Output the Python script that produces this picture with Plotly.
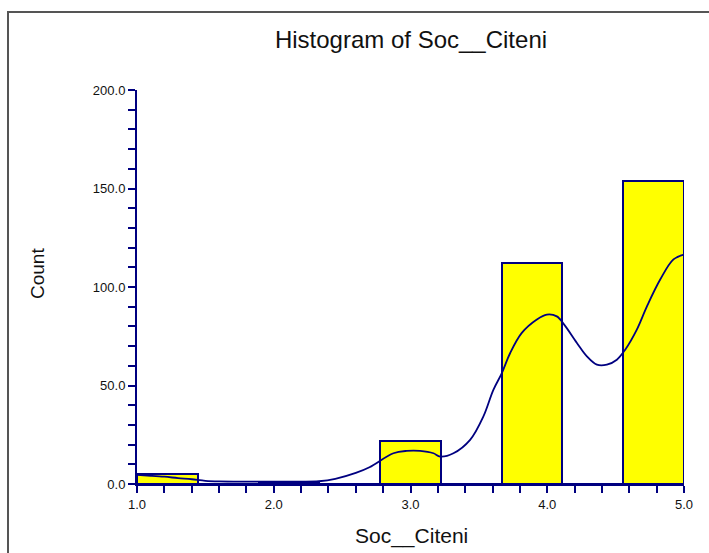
import plotly.graph_objects as go

# Histogram bins (9 equal bins over 1..5) and their counts
bin_left = [1.0, 1.4444, 1.8889, 2.3333, 2.7778, 3.2222, 3.6667, 4.1111, 4.5556]
bin_right = [1.4444, 1.8889, 2.3333, 2.7778, 3.2222, 3.6667, 4.1111, 4.5556, 5.0]
counts = [5, 0, 1, 0, 22, 0, 112, 0, 154]

# Density curve scaled to counts
curve_x = [1.0, 1.1, 1.2, 1.3, 1.4, 1.5, 1.6, 1.8, 2.0, 2.2, 2.33, 2.45, 2.6, 2.7,
           2.875, 2.973, 3.07, 3.168, 3.217, 3.314, 3.436, 3.533, 3.606, 3.668,
           3.729, 3.814, 3.924, 3.997, 4.07, 4.124, 4.217, 4.29, 4.363, 4.436,
           4.509, 4.57, 4.655, 4.729, 4.826, 4.923, 5.0]
curve_y = [4.6, 4.2, 3.7, 3.0, 2.4, 1.6, 1.3, 1.2, 1.2, 1.2, 1.4, 2.6, 5.6, 8.5,
           15.6, 16.8, 16.8, 15.6, 13.9, 15.6, 22.4, 34.3, 47.8, 56.3,
           66.5, 76.7, 83.5, 86.0, 85.1, 80.9, 71.6, 64.8, 60.6, 60.6,
           63.1, 68.2, 78.4, 90.2, 103.8, 114.0, 116.5]

y_ticks = [0, 50, 100, 150, 200]
y_ticklabels = ["0.0", "50.0", "100.0", "150.0", "200.0"]
x_ticks = [1, 2, 3, 4, 5]
x_ticklabels = ["1.0", "2.0", "3.0", "4.0", "5.0"]

NAVY = "#000080"
FONT = "Liberation Sans, Arial, sans-serif"

centers = [(a + b) / 2 for a, b in zip(bin_left, bin_right)]
widths = [b - a for a, b in zip(bin_left, bin_right)]

fig = go.Figure()
fig.add_trace(go.Bar(
    x=centers, y=counts, width=widths,
    marker=dict(color="#ffff00", line=dict(color=NAVY, width=2)),
    hoverinfo="skip",
))
fig.add_trace(go.Scatter(
    x=curve_x, y=curve_y, mode="lines",
    line=dict(color=NAVY, width=1.8, shape="spline", smoothing=1.0),
    hoverinfo="skip",
))

W, H = 709, 553
L, R, T, B = 137, 25, 90, 69
pw, ph = W - L - R, H - T - B

def px_to_paper_x(px):
    return (px - L) / pw

def py_to_paper_y(py):
    return (H - B - py) / ph

axis_common = dict(
    showline=True, linecolor=NAVY, linewidth=2,
    ticks="outside", ticklen=7, tickwidth=2, tickcolor=NAVY,
    showgrid=False, zeroline=False,
    tickfont=dict(family=FONT, size=13, color="#111111"),
)

fig.update_layout(
    width=W, height=H,
    margin=dict(l=L, r=R, t=T, b=B, pad=0),
    paper_bgcolor="white", plot_bgcolor="white",
    showlegend=False, bargap=0,
    title=dict(
        text="Histogram of Soc__Citeni",
        font=dict(family=FONT, size=24, color="#111111"),
        x=px_to_paper_x(411), xref="paper", xanchor="center",
        y=1 - 40 / H, yref="container", yanchor="middle",
    ),
    xaxis=dict(
        range=[1, 5], tickvals=x_ticks, ticktext=x_ticklabels,
        minor=dict(dtick=0.2, tick0=1, ticks="outside", ticklen=7,
                   tickwidth=2, tickcolor=NAVY),
        **axis_common,
    ),
    yaxis=dict(
        range=[0, 200], tickvals=y_ticks, ticktext=y_ticklabels,
        minor=dict(dtick=10, tick0=0, ticks="outside", ticklen=7,
                   tickwidth=2, tickcolor=NAVY),
        **axis_common,
    ),
    annotations=[
        dict(text="Soc__Citeni", xref="paper", yref="paper",
             x=px_to_paper_x(411), y=py_to_paper_y(536),
             xanchor="center", yanchor="middle", showarrow=False,
             font=dict(family=FONT, size=21, color="#111111")),
        dict(text="Count", xref="paper", yref="paper",
             x=px_to_paper_x(37), y=py_to_paper_y(274),
             xanchor="center", yanchor="middle", showarrow=False,
             textangle=-90,
             font=dict(family=FONT, size=19, color="#111111")),
    ],
    shapes=[
        # outer frame around the chart
        dict(type="rect", xref="paper", yref="paper", layer="below",
             x0=px_to_paper_x(8), x1=px_to_paper_x(760),
             y0=py_to_paper_y(620), y1=py_to_paper_y(12),
             line=dict(color="#555555", width=2), fillcolor="rgba(0,0,0,0)"),
    ],
)

fig.write_html("out.html")
